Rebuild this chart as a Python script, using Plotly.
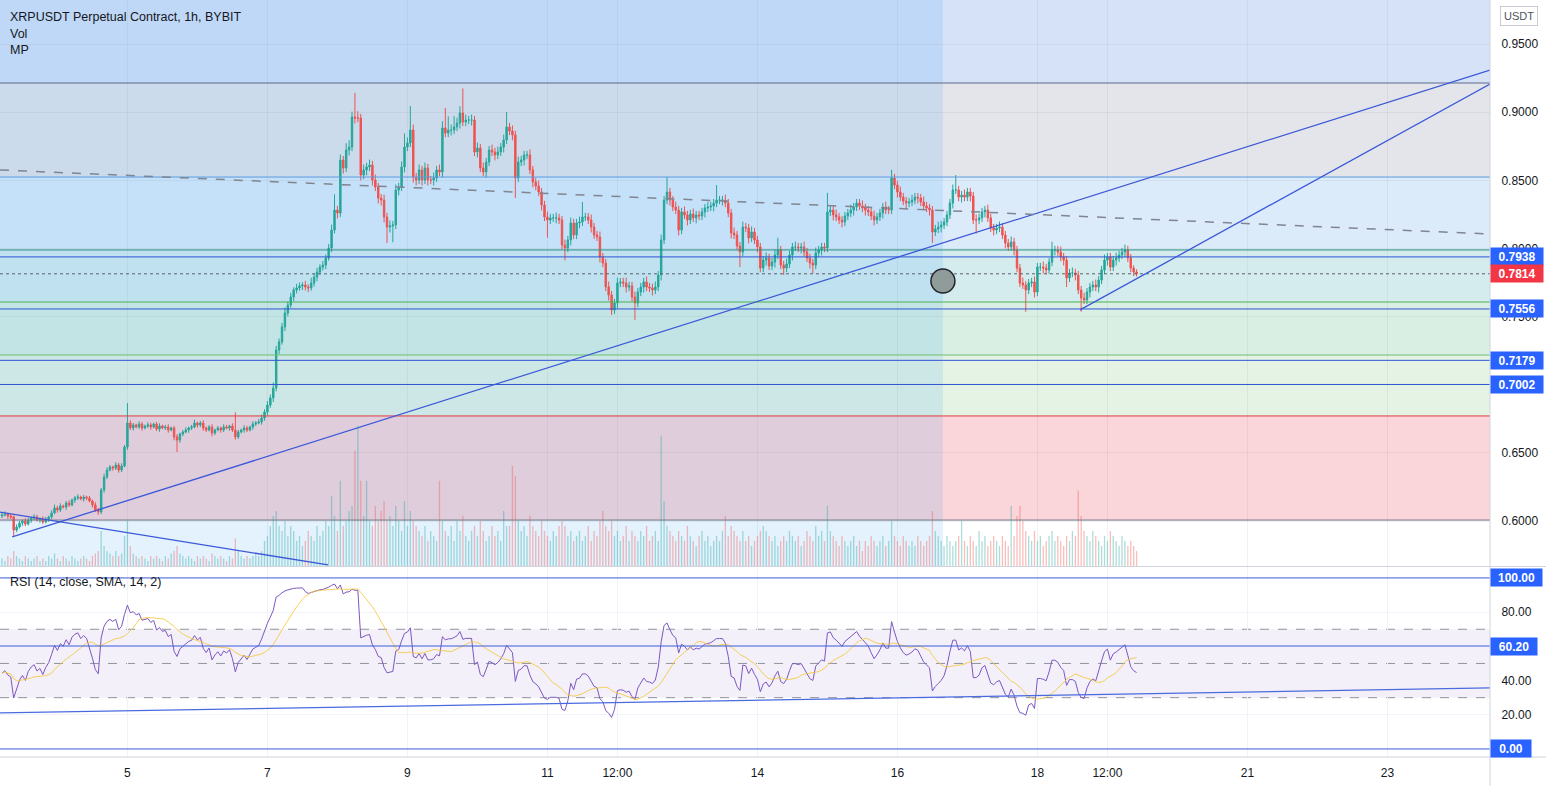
import numpy as np
import pandas as pd
import plotly.graph_objects as go

TITLE = "XRPUSDT Perpetual Contract, 1h, BYBIT"
LEGEND_ROWS = ["Vol", "MP"]
RSI_TITLE = "RSI (14, close, SMA, 14, 2)"

FIRST_OPEN = 0.6037
closes = [
    0.6044, 0.6051, 0.6037, 0.6030, 0.5934, 0.5956, 0.5985, 0.6000, 0.5978, 0.6007,
    0.6022, 0.6030, 0.6007, 0.6015, 0.5993, 0.6015, 0.6030, 0.6059, 0.6096, 0.6081,
    0.6110, 0.6103, 0.6132, 0.6118, 0.6154, 0.6169, 0.6176, 0.6162, 0.6176, 0.6169,
    0.6147, 0.6118, 0.6081, 0.6066, 0.6228, 0.6323, 0.6374, 0.6396, 0.6389, 0.6411,
    0.6374, 0.6404, 0.6543, 0.6719, 0.6683, 0.6705, 0.6690, 0.6712, 0.6683, 0.6697,
    0.6705, 0.6690, 0.6712, 0.6675, 0.6697, 0.6683, 0.6690, 0.6668, 0.6683, 0.6617,
    0.6594, 0.6638, 0.6653, 0.6668, 0.6683, 0.6690, 0.6719, 0.6705, 0.6719, 0.6683,
    0.6668, 0.6690, 0.6646, 0.6668, 0.6683, 0.6668, 0.6690, 0.6683, 0.6697, 0.6668,
    0.6617, 0.6653, 0.6668, 0.6683, 0.6668, 0.6690, 0.6712, 0.6719, 0.6727, 0.6756,
    0.6800, 0.6851, 0.6903, 0.6976, 0.7255, 0.7314, 0.7424, 0.7526, 0.7585, 0.7644,
    0.7695, 0.7710, 0.7725, 0.7732, 0.7717, 0.7710, 0.7746, 0.7790, 0.7827, 0.7864,
    0.7878, 0.7930, 0.8003, 0.8135, 0.8282, 0.8260, 0.8649, 0.8590, 0.8722, 0.8744,
    0.8964, 0.8957, 0.8957, 0.8539, 0.8576, 0.8598, 0.8612, 0.8502, 0.8451, 0.8370,
    0.8355, 0.8231, 0.8157, 0.8165, 0.8172, 0.8429, 0.8451, 0.8598, 0.8744, 0.8774,
    0.8869, 0.8524, 0.8502, 0.8576, 0.8502, 0.8590, 0.8502, 0.8502, 0.8517, 0.8576,
    0.8561, 0.8884, 0.8847, 0.8869, 0.8869, 0.8891, 0.8920, 0.8994, 0.8928, 0.8942,
    0.8942, 0.8942, 0.8708, 0.8737, 0.8590, 0.8561, 0.8634, 0.8722, 0.8708, 0.8686,
    0.8708, 0.8744, 0.8796, 0.8891, 0.8862, 0.8833, 0.8517, 0.8634, 0.8649, 0.8686,
    0.8686, 0.8576, 0.8488, 0.8458, 0.8414, 0.8319, 0.8231, 0.8209, 0.8224, 0.8224,
    0.8224, 0.8209, 0.8025, 0.8003, 0.8062, 0.8187, 0.8099, 0.8187, 0.8194, 0.8231,
    0.8231, 0.8209, 0.8157, 0.8099, 0.8084, 0.7937, 0.7893, 0.7717, 0.7658, 0.7548,
    0.7600, 0.7746, 0.7754, 0.7746, 0.7717, 0.7725, 0.7644, 0.7600, 0.7680, 0.7717,
    0.7754, 0.7717, 0.7710, 0.7695, 0.7717, 0.7805, 0.8062, 0.8355, 0.8414, 0.8355,
    0.8304, 0.8282, 0.8135, 0.8268, 0.8246, 0.8209, 0.8253, 0.8224, 0.8246, 0.8238,
    0.8268, 0.8297, 0.8304, 0.8312, 0.8333, 0.8355, 0.8355, 0.8355, 0.8333, 0.8260,
    0.8113, 0.8099, 0.8018, 0.7974, 0.8157, 0.8150, 0.8077, 0.8121, 0.8062, 0.8011,
    0.7856, 0.7915, 0.7930, 0.7871, 0.7900, 0.7952, 0.7989, 0.7878, 0.7856, 0.7886,
    0.7952, 0.8011, 0.8011, 0.8003, 0.8011, 0.7974, 0.7930, 0.7893, 0.7878, 0.7967,
    0.7989, 0.8011, 0.8003, 0.8268, 0.8282, 0.8246, 0.8231, 0.8209, 0.8194, 0.8238,
    0.8260, 0.8282, 0.8304, 0.8333, 0.8312, 0.8297, 0.8282, 0.8268, 0.8238, 0.8209,
    0.8231, 0.8260, 0.8304, 0.8282, 0.8282, 0.8517, 0.8465, 0.8414, 0.8377, 0.8348,
    0.8333, 0.8341, 0.8355, 0.8377, 0.8370, 0.8341, 0.8312, 0.8297, 0.8282, 0.8121,
    0.8143, 0.8157, 0.8172, 0.8194, 0.8246, 0.8333, 0.8429, 0.8429, 0.8377, 0.8392,
    0.8377, 0.8414, 0.8385, 0.8209, 0.8209, 0.8224, 0.8268, 0.8282, 0.8224, 0.8150,
    0.8135, 0.8150, 0.8157, 0.8099, 0.8040, 0.8011, 0.8048, 0.7989, 0.7856, 0.7746,
    0.7732, 0.7695, 0.7746, 0.7754, 0.7680, 0.7864, 0.7864, 0.7856, 0.7842, 0.7900,
    0.7989, 0.7989, 0.7974, 0.7937, 0.7915, 0.7783, 0.7820, 0.7820, 0.7805, 0.7695,
    0.7636, 0.7622, 0.7680, 0.7717, 0.7732, 0.7717, 0.7768, 0.7842, 0.7915, 0.7937,
    0.7864, 0.7915, 0.7930, 0.7952, 0.7974, 0.7989, 0.7930, 0.7856, 0.7827, 0.7814,
]

# upper / lower wick lengths in milli-USDT (0.001)
wick_up_milli = [
    1.5, 2, 1, 1.5, 1, 2, 1.5, 1, 2, 1.5,
    1, 2, 1.5, 1, 2, 1.5, 1, 2, 2.5, 1.5,
    2, 1, 1.5, 2, 1, 1.5, 2, 1, 1.5, 1,
    1.5, 1, 2, 1.5, 1.5, 2.5, 2, 1.5, 1, 2,
    1.5, 2, 1.5, 14.7, 2, 1.5, 1, 2, 1.5, 1,
    2, 1.5, 1, 1.5, 2, 1, 1.5, 2, 1, 1.5,
    2, 1, 1.5, 2, 1, 1.5, 2.5, 1, 1.5, 2,
    1, 1.5, 2, 1, 1.5, 1, 2, 1.5, 1, 2,
    13, 1.5, 1, 2, 1.5, 1, 2, 1.5, 2, 2.5,
    2, 3, 2.5, 4, 3, 2.5, 3, 4, 2.5, 3,
    2, 3, 2.5, 2, 3, 2, 4, 2.5, 3, 2,
    3, 2.5, 3, 4, 11.5, 3, 4, 3, 5, 5,
    4, 17.7, 5, 3, 4, 3, 4, 3, 4, 3,
    3, 4, 3, 4, 3, 4, 3, 4, 10, 4,
    17.6, 4, 3, 4, 3, 4, 3, 3, 4, 3,
    4, 5, 14.7, 10, 4, 8, 4, 5, 18, 4,
    3, 4, 3, 4, 3, 4, 3, 3, 4, 3,
    4, 3, 4, 11, 3, 4, 3, 4, 3, 3,
    3, 4, 3, 3, 4, 3, 3, 4, 3, 3,
    4, 3, 3, 4, 3, 4, 3, 3, 4, 11,
    3, 3, 4, 3, 3, 4, 3, 3, 4, 3,
    3, 4, 3, 3, 4, 3, 3, 4, 3, 3,
    3, 4, 3, 3, 4, 3, 4, 3, 11, 3,
    3, 4, 3, 3, 4, 3, 3, 4, 3, 3,
    3, 3, 4, 3, 3, 11, 3, 3, 4, 3,
    3, 4, 3, 3, 4, 3, 3, 4, 3, 3,
    3, 3, 4, 3, 3, 4, 9, 3, 3, 4,
    3, 3, 4, 3, 3, 4, 3, 3, 3, 4,
    3, 3, 3, 14, 3, 3, 4, 3, 3, 3,
    3, 4, 3, 3, 3, 4, 3, 3, 3, 4,
    3, 3, 3, 4, 3, 6, 3, 3, 4, 3,
    3, 3, 4, 3, 3, 3, 4, 3, 3, 3,
    3, 4, 3, 3, 3, 3, 4, 11, 3, 3,
    4, 3, 3, 3, 4, 3, 3, 3, 4, 3,
    3, 3, 4, 3, 3, 3, 4, 3, 3, 3,
    4, 3, 3, 3, 4, 3, 3, 4, 3, 3,
    6, 3, 3, 4, 3, 3, 3, 4, 3, 3,
    3, 4, 3, 3, 3, 4, 3, 3, 4, 3,
    3, 3, 4, 3, 3, 4, 3, 3, 2, 2,
]
wick_dn_milli = [
    1.5, 1, 2, 1.5, 5, 1.5, 1, 2, 1.5, 1,
    2, 1.5, 1, 2, 1.5, 1, 2, 1.5, 1, 2,
    1.5, 1, 2, 1.5, 1, 2, 1.5, 1, 2, 1.5,
    1, 2, 1.5, 2, 1.5, 2, 1.5, 1, 2, 1.5,
    2, 1.5, 1, 2, 1.5, 2, 1, 1.5, 2, 1,
    1.5, 2, 1, 1.5, 2, 1, 1.5, 2, 1, 2.5,
    8.7, 2, 1.5, 1, 2, 1.5, 1, 2, 1.5, 2,
    1.5, 1, 2.5, 1.5, 1, 2, 1.5, 1, 2, 1.5,
    2, 1.5, 1, 2, 1.5, 1, 2, 1.5, 1, 2,
    2, 2.5, 2, 3, 2.5, 3, 2, 3, 2.5, 2,
    3, 2.5, 2, 3, 2.5, 3, 2, 2.5, 3, 2,
    2.5, 3, 2, 3, 2.5, 4, 3, 4, 3, 4,
    3, 4, 3, 4, 3, 4, 3, 4, 3, 4,
    4, 4, 11.7, 4, 12, 3, 4, 3, 4, 3,
    3, 4, 4, 3, 4, 3, 4, 3, 4, 3,
    3, 4, 3, 3, 4, 3, 3, 4, 3, 3,
    3, 4, 3, 4, 3, 3, 4, 3, 3, 4,
    3, 3, 4, 3, 3, 4, 14.7, 3, 3, 4,
    3, 3, 4, 3, 3, 4, 3, 13, 3, 3,
    4, 3, 3, 9, 3, 4, 3, 3, 4, 3,
    3, 3, 4, 3, 3, 4, 3, 3, 4, 3.6,
    3, 4, 3, 3, 4, 3, 3, 12.5, 3, 3,
    4, 3, 3, 4, 3, 3, 4, 3, 3, 4,
    3, 3, 4, 3, 3, 4, 3, 3, 4, 3,
    3, 4, 3, 3, 4, 3, 3, 4, 3, 3,
    4, 3, 3, 11, 3, 3, 4, 3, 3, 4,
    3, 3, 4, 3, 3, 4, 3, 3, 5, 3,
    3, 4, 3, 3, 4, 3, 3, 4, 6, 3,
    3, 4, 3, 3, 3, 4, 3, 3, 4, 3,
    3, 3, 4, 3, 3, 3, 4, 3, 3, 4,
    3, 3, 4, 3, 3, 3, 3, 4, 3, 3,
    4, 3, 3, 3, 4, 3, 3, 3, 4, 8,
    3, 3, 4, 3, 3, 3, 4, 3, 3, 4,
    3, 3, 4, 3, 10, 3, 3, 4, 3, 3,
    4, 3, 3, 3, 4, 3, 3, 4, 3, 3,
    3, 16, 3, 3, 4, 3, 3, 4, 3, 3,
    3, 4, 3, 3, 4, 6.6, 3, 3, 4, 3,
    10, 3, 3, 4, 3, 3, 4, 3, 3, 4,
    3, 3, 4, 3, 3, 4, 3, 3, 3, 2,
]

# volume in millions of XRP
volume_m = [
    1.5, 1, 2, 1.5, 3, 2, 1.5, 1, 2, 1.5, 1, 1.5, 2, 1, 1.5, 1, 2, 1.5, 2.5, 1.5,
    1, 2, 1.5, 1, 2, 1.5, 1, 1.5, 2, 1.5, 1, 2, 2.5, 3,
    7, 4, 3, 2.5, 2, 3, 2, 2.5, 6, 9,
    4, 2.5, 2, 1.5, 2, 1.5, 1, 2, 1.5, 2,
    1.5, 1, 2, 1.5, 2.5, 3, 4, 2.5, 2, 1.5,
    2, 1.5, 1, 2, 1.5, 2, 1.5, 1, 2.5, 2,
    1.5, 2, 1.5, 1, 2, 1.5, 5.5, 3, 2, 1.5,
    2, 1.5, 2, 2.5, 2, 3,
    5, 6, 8, 10, 11, 8, 7, 9, 6, 8, 7, 5, 6, 4, 5, 7, 6, 5, 8, 6, 7, 9, 8,
    14, 10, 7, 17, 8, 9, 11, 12, 23, 28, 17, 10, 17, 9, 8, 12, 9, 11, 13, 9,
    10, 8, 12, 9, 7, 13, 8, 11, 9, 8, 7, 6, 8, 5, 7, 6, 5, 17, 9,
    7, 6, 8, 5, 9, 7, 10, 6, 5, 7, 8, 6, 9, 7, 5, 6, 8, 6, 7, 5,
    11, 8, 8, 20, 18, 9, 7, 8, 6, 10, 8, 7, 6, 9, 7, 6, 5, 7, 6, 8,
    9, 8, 6, 7, 5, 6, 7, 5, 6, 8, 5, 7, 6, 9, 11, 8, 7, 9, 6, 7,
    5, 6, 8, 5, 7, 6, 5, 7, 6, 8, 5, 6, 7, 5, 26, 13, 8, 7, 6, 5,
    7, 6, 5, 8, 6, 5, 4, 6, 7, 5, 6, 4, 5, 6, 5, 7, 10, 6, 8, 7,
    6, 5, 7, 5, 6, 4, 5, 6, 7, 8, 7, 6, 5, 6, 4, 5, 6, 5, 7, 6,
    5, 6, 4, 5, 7, 6, 5, 8, 6, 7, 5, 12, 7, 6, 5, 4, 6, 5, 4, 5,
    6, 4, 5, 3, 5, 4, 6, 5, 4, 5, 6, 4, 5, 9, 6, 5, 4, 6, 5, 4,
    5, 4, 6, 5, 4, 5, 6, 11, 7, 6, 5, 4, 6, 5, 4, 5, 6, 9, 5, 4,
    6, 5, 4, 7, 5, 6, 4, 5, 6, 5, 4, 6, 5, 4, 12, 6, 10, 12, 9, 7,
    6, 5, 7, 5, 6, 4, 5, 6, 7, 5, 6, 5, 4, 6, 5, 7, 6, 15, 10, 7,
    6, 5, 7, 6, 5, 4, 6, 5, 7, 6, 5, 4, 6, 5, 4, 5, 4, 3,
]

# time axis: hour index 0 = first candle; day 5 00:00 falls on hour 43
HOUR_OF_DAY5 = 43
tick_days = [5, 7, 9, 11, 12, 14, 16, 18, 19, 21, 23]
tick_labels = ["5", "7", "9", "11", "12:00", "14", "16", "18", "12:00", "21", "23"]

price_ticks = [0.60, 0.65, 0.70, 0.75, 0.80, 0.85, 0.90, 0.95]
rsi_ticks = [20, 40, 80]

# fib-style zones (levels, top to bottom) and fills (band above each level)
fib_levels = [0.9214, 0.8524, 0.7989, 0.7607, 0.7218, 0.6771, 0.6007]
fib_line_colors = ["#5d6b8a", "#5b9be0", "#2b8f7f", "#4caf50", "#6cbf70", "#e0393e", "#707380"]
fib_fills = ["#d6e2f8", "#e3e5ea", "#dcebfa", "#d5ecef", "#d9efe3", "#e5f3e4", "#fad5d9"]

sr_levels = [0.7938, 0.7556, 0.7179, 0.7002]
last_price = 0.7814
rsi_levels = [100.0, 60.20, 0.0]

# drawings: (hour, price)
trend_up_long = [(3.5, 0.5883), (510.17, 0.9309)]
trend_up_short = [(369.6, 0.7549), (510.17, 0.9207)]
trend_down = [(-0.69, 0.6066), (111.8, 0.5678)]
dashed_trend = [(-0.69, 0.8576), (510.17, 0.8106)]
rsi_trend = [(-0.69, 21.05), (510.17, 35.7)]
highlight_end_hour = 322.6
circle_mark = (322.6, 0.7761)

X_LEFT, X_RIGHT = -0.69, 510.17
P_LO, P_HI = 0.5670, 0.9823
R_LO, R_HI = -4.7, 106.4
VOL_TOP = 113

# ---------------------------------------------------------------
n = min(len(closes), len(wick_up_milli), len(wick_dn_milli), len(volume_m))
c = np.array(closes[:n])
o = np.concatenate([[FIRST_OPEN], c[:-1]])
h = np.maximum(o, c) + np.array(wick_up_milli[:n]) / 1000.0
l = np.minimum(o, c) - np.array(wick_dn_milli[:n]) / 1000.0
hours = np.arange(n)
vol = np.array(volume_m[:n])
up = c >= o
vcol = np.where(up, "rgba(38,166,154,0.38)", "rgba(239,83,80,0.38)")

# RSI (Wilder) seeded with pre-window averages, SMA 14
seed_gain, seed_loss = 0.0009, 0.0012
ag, al = seed_gain, seed_loss
rsi = []
prev = FIRST_OPEN
for v in c:
    d = v - prev
    prev = v
    ag = (ag * 13 + max(d, 0)) / 14
    al = (al * 13 + max(-d, 0)) / 14
    rsi.append(100 - 100 / (1 + ag / al))
rsi = np.array(rsi)
rsi_ma = pd.Series(rsi).rolling(14, min_periods=1).mean().values

tickpos = [HOUR_OF_DAY5 + (d - 5) * 24 for d in tick_days]

FONT = "Liberation Sans, Arial, sans-serif"
TXT = "#131722"

fig = go.Figure()
fig.add_trace(go.Bar(x=hours, y=vol, marker=dict(color=vcol, line=dict(width=0)),
                     width=0.45, xaxis="x", yaxis="y3", hoverinfo="skip"))
fig.add_trace(go.Candlestick(
    x=hours, open=o, high=h, low=l, close=c, xaxis="x", yaxis="y",
    increasing=dict(line=dict(color="#26a69a", width=1), fillcolor="#26a69a"),
    decreasing=dict(line=dict(color="#ef5350", width=1), fillcolor="#ef5350"),
    whiskerwidth=0, hoverinfo="skip"))
fig.add_trace(go.Scatter(x=hours, y=rsi, mode="lines", xaxis="x2", yaxis="y2",
                         line=dict(color="#7e57c2", width=1), hoverinfo="skip"))
fig.add_trace(go.Scatter(x=hours, y=rsi_ma, mode="lines", xaxis="x2", yaxis="y2",
                         line=dict(color="rgba(245,200,60,0.85)", width=1), hoverinfo="skip"))

shapes = []
# zone fills
tops = [P_HI] + fib_levels[:-1]
for top, bot, col in zip(tops, fib_levels, fib_fills):
    shapes.append(dict(type="rect", xref="paper", yref="y", x0=0, x1=1, y0=bot, y1=top,
                       fillcolor=col, line=dict(width=0), layer="below"))
# date-range highlight
shapes.append(dict(type="rect", xref="x", yref="y", x0=X_LEFT, x1=highlight_end_hour,
                   y0=P_LO, y1=P_HI, fillcolor="rgba(33,150,243,0.12)",
                   line=dict(width=0), layer="below"))
# RSI band
shapes.append(dict(type="rect", xref="paper", yref="y2", x0=0, x1=1, y0=30, y1=70,
                   fillcolor="rgba(126,87,194,0.09)", line=dict(width=0), layer="below"))
for lv in [70, 50, 30]:
    shapes.append(dict(type="line", xref="paper", yref="y2", x0=0, x1=1, y0=lv, y1=lv,
                       line=dict(color="#8f929b", width=1, dash="dash"), layer="below"))
# fib level lines
for lv, col in zip(fib_levels, fib_line_colors):
    shapes.append(dict(type="line", xref="paper", yref="y", x0=0, x1=1, y0=lv, y1=lv,
                       line=dict(color=col, width=1), layer="above"))
for lv in sr_levels:
    shapes.append(dict(type="line", xref="paper", yref="y", x0=0, x1=1, y0=lv, y1=lv,
                       line=dict(color="#2f54d6", width=1), layer="above"))
shapes.append(dict(type="line", xref="paper", yref="y", x0=0, x1=1, y0=last_price, y1=last_price,
                   line=dict(color="#5d606b", width=1, dash="dot"), layer="above"))
for seg, col, dash in [(trend_up_long, "#3b58d8", "solid"), (trend_up_short, "#3b58d8", "solid"),
                       (trend_down, "#3b58d8", "solid"), (dashed_trend, "#80858f", "dash")]:
    (x0, y0), (x1, y1) = seg
    shapes.append(dict(type="line", xref="x", yref="y", x0=x0, y0=y0, x1=x1, y1=y1,
                       line=dict(color=col, width=1.3 if dash == "solid" else 1.5, dash=dash),
                       layer="above"))
for lv in rsi_levels:
    shapes.append(dict(type="line", xref="paper", yref="y2", x0=0, x1=1, y0=lv, y1=lv,
                       line=dict(color="#3a5bd9", width=1), layer="above"))
(x0, y0), (x1, y1) = rsi_trend
shapes.append(dict(type="line", xref="x2", yref="y2", x0=x0, y0=y0, x1=x1, y1=y1,
                   line=dict(color="#4a6be0", width=1.3), layer="above"))
# circle marker
shapes.append(dict(type="circle", xref="x", yref="y", xsizemode="pixel", ysizemode="pixel",
                   xanchor=circle_mark[0], yanchor=circle_mark[1], x0=-12, x1=12, y0=-12, y1=12,
                   fillcolor="#8f9c9a", line=dict(color="#20242a", width=1.5), layer="above"))
# pane separators / frame
shapes.append(dict(type="line", xref="paper", yref="paper", x0=0, x1=1546 / 1490,
                   y0=(757 - 566.5) / 757, y1=(757 - 566.5) / 757,
                   line=dict(color="#d1d4dc", width=1), layer="above"))
shapes.append(dict(type="line", xref="paper", yref="paper", x0=0, x1=1546 / 1490, y0=0, y1=0,
                   line=dict(color="#d1d4dc", width=1), layer="above"))
shapes.append(dict(type="line", xref="paper", yref="paper", x0=1, x1=1, y0=-29 / 757, y1=1,
                   line=dict(color="#d1d4dc", width=1), layer="above"))

ann = []
def py(ypx):
    return (757 - ypx) / 757

ann.append(dict(xref="paper", yref="paper", x=8 / 1490, y=py(17), text=TITLE, showarrow=False,
                xanchor="left", yanchor="middle", font=dict(size=12.5, color=TXT, family=FONT)))
for k, t in enumerate(LEGEND_ROWS):
    ann.append(dict(xref="paper", yref="paper", x=8 / 1490, y=py(33.5 + 17 * k), text=t, showarrow=False,
                    xanchor="left", yanchor="middle", font=dict(size=12.5, color=TXT, family=FONT)))
ann.append(dict(xref="paper", yref="paper", x=8 / 1490, y=py(582), text=RSI_TITLE, showarrow=False,
                xanchor="left", yanchor="middle", font=dict(size=12.5, color=TXT, family=FONT)))
ann.append(dict(xref="paper", yref="paper", x=1500 / 1490, y=py(16), text="USDT", showarrow=False,
                xanchor="left", yanchor="middle", bgcolor="white", bordercolor="#c8cbd3",
                borderwidth=1, borderpad=3, font=dict(size=11, color="#50535e", family=FONT)))

def label(y, yref, text, color, width):
    return dict(xref="paper", yref=yref, x=1, y=y, text="<b>%s</b>" % text, showarrow=False,
                xanchor="left", yanchor="middle", bgcolor=color, borderpad=2, width=width,
                height=13, align="center", font=dict(size=12, color="white", family=FONT))

for lv in sr_levels:
    ann.append(label(lv, "y", "%.4f" % lv, "#2962ff", 48))
ann.append(label(last_price, "y", "%.4f" % last_price, "#f23645", 48))
for lv, w in zip(rsi_levels, [47, 42, 36]):
    ann.append(label(lv, "y2", "%.2f" % lv, "#2962ff", w))

axis_font = dict(size=12, color=TXT, family=FONT)
fig.update_layout(
    width=1546, height=786, margin=dict(l=0, r=56, t=0, b=29),
    paper_bgcolor="white", plot_bgcolor="white", showlegend=False, hovermode=False,
    font=dict(family=FONT, color=TXT),
    xaxis=dict(domain=[0, 1], range=[X_LEFT, X_RIGHT], anchor="y", showticklabels=False,
               tickvals=tickpos, showgrid=True, gridcolor="rgba(120,130,150,0.10)",
               zeroline=False, rangeslider=dict(visible=False), showline=False),
    xaxis2=dict(domain=[0, 1], range=[X_LEFT, X_RIGHT], anchor="y2", tickvals=tickpos,
                ticktext=tick_labels, ticks="outside", ticklen=5, tickcolor="rgba(0,0,0,0)",
                showgrid=True, gridcolor="#f0f3fa", zeroline=False, tickfont=axis_font),
    yaxis=dict(domain=[(757 - 566) / 757, 1], range=[P_LO, P_HI], anchor="x", side="right",
               tickvals=price_ticks, ticktext=["%.4f" % v for v in price_ticks],
               ticks="outside", ticklen=8, tickcolor="rgba(0,0,0,0)", showgrid=True,
               gridcolor="rgba(120,130,150,0.10)", zeroline=False, tickfont=axis_font),
    yaxis2=dict(domain=[0, (757 - 567) / 757], range=[R_LO, R_HI], anchor="x2", side="right",
                tickvals=rsi_ticks, ticktext=["%.2f" % v for v in rsi_ticks],
                ticks="outside", ticklen=8, tickcolor="rgba(0,0,0,0)", showgrid=True,
                gridcolor="#f0f3fa", zeroline=False, tickfont=axis_font),
    yaxis3=dict(overlaying="y", anchor="x", range=[0, VOL_TOP], visible=False),
    shapes=shapes, annotations=ann,
)

fig.write_html("out.html")
